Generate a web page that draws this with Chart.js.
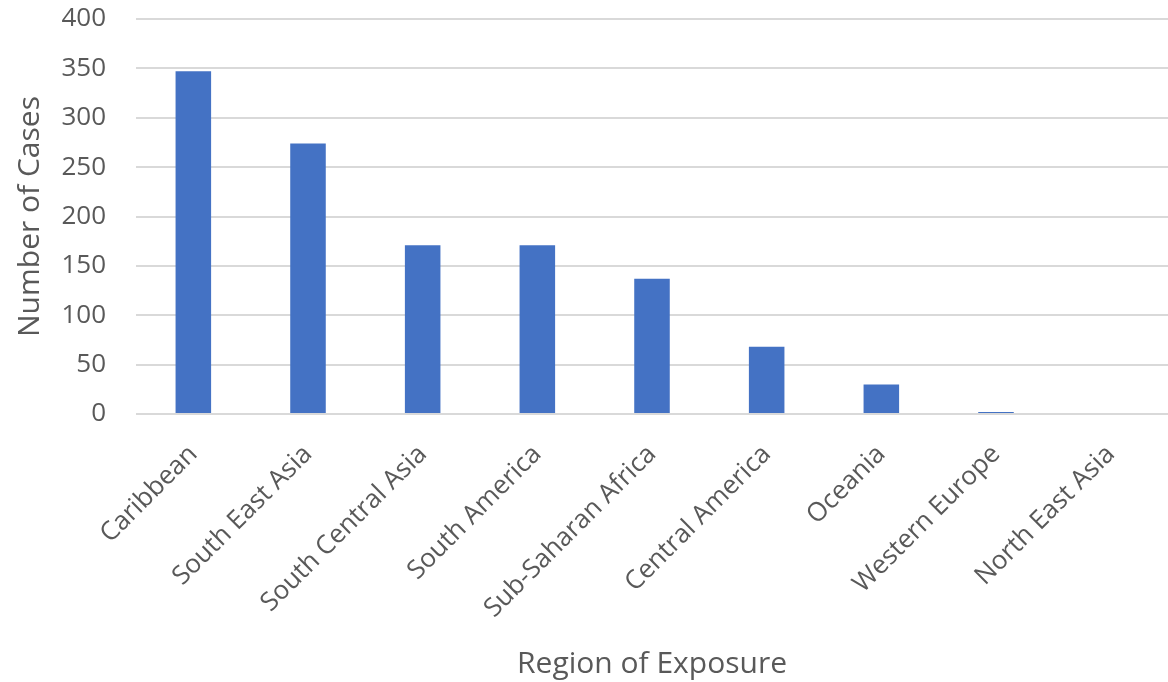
<!DOCTYPE html>
<html>
<head>
<meta charset="utf-8">
<script src="https://cdn.jsdelivr.net/npm/chart.js@4"></script>
<style>
  html, body { margin: 0; padding: 0; background: #fff; }
  #wrap { width: 1168px; height: 682px; }
</style>
</head>
<body>
<div id="wrap"><canvas id="barChart"></canvas></div>
<script>
const regions = ['Caribbean', 'South East Asia', 'South Central Asia', 'South America',
    'Sub-Saharan Africa', 'Central America', 'Oceania', 'Western Europe', 'North East Asia'];
const caseCounts = [347, 274, 171, 171, 137, 68, 30, 2, 0];
const yTicks = [0, 50, 100, 150, 200, 250, 300, 350, 400];

const textColor = '#595959';
const fontFamily = '"Open Sans", "Liberation Sans", sans-serif';

const data = {
    labels: regions,
    datasets: [{
        label: 'Number of Cases',
        backgroundColor: '#4472c4',
        borderColor: '#4472c4',
        borderWidth: 0,
        data: caseCounts,
        barPercentage: 0.31,
        categoryPercentage: 1.0
    }]
};

const config = {
    type: 'bar',
    data: data,
    options: {
        responsive: true,
        maintainAspectRatio: false,
        animation: false,
        layout: { padding: { top: 19, right: 0, left: 0, bottom: 0 } },
        plugins: {
            legend: { display: false },
            tooltip: { enabled: false }
        },
        scales: {
            x: {
                grid: { display: false },
                border: { display: false },
                ticks: {
                    color: textColor,
                    font: { family: fontFamily, size: 26 },
                    minRotation: 45,
                    maxRotation: 45,
                    padding: 17
                },
                title: {
                    display: true,
                    text: 'Region of Exposure',
                    color: textColor,
                    font: { family: fontFamily, size: 30 },
                    padding: { top: 0, bottom: 0 }
                },
                afterFit: function(scale) {
                    scale.height = 682 - 414;
                    scale.paddingLeft = 0;
                    scale.paddingRight = 0;
                }
            },
            y: {
                min: 0,
                max: 400,
                afterBuildTicks: function(scale) {
                    scale.ticks = yTicks.map(v => ({ value: v }));
                },
                grid: { color: '#d9d9d9', lineWidth: 2, drawTicks: false },
                border: { display: false },
                ticks: {
                    color: textColor,
                    font: { family: fontFamily, size: 26 },
                    padding: 30
                },
                title: {
                    display: true,
                    text: 'Number of Cases',
                    color: textColor,
                    font: { family: fontFamily, size: 30 },
                    padding: { top: 12, bottom: 0 }
                },
                afterFit: function(scale) {
                    scale.width = 136;
                    scale.paddingTop = 0;
                    scale.paddingBottom = 0;
                }
            }
        }
    }
};

const myChart = new Chart(document.getElementById('barChart'), config);
</script>
</body>
</html>
